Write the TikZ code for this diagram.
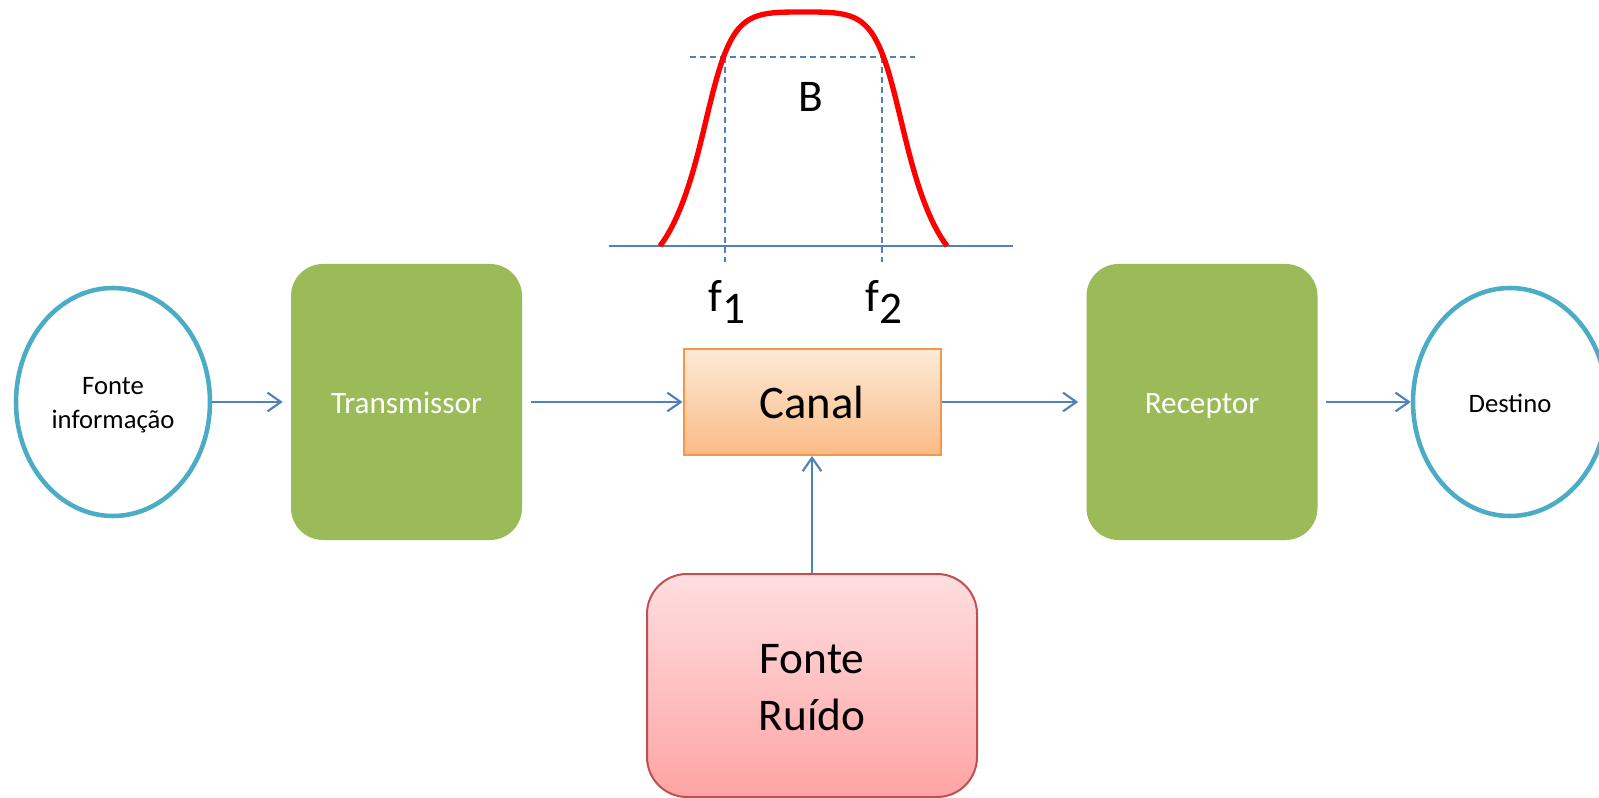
\documentclass[tikz,border=0pt]{standalone}
\usepackage{fontspec}
\setmainfont{Carlito}
\usetikzlibrary{arrows.meta,shapes.geometric}

\definecolor{flow}{HTML}{4F81BD}
\definecolor{ring}{HTML}{4BACC6}
\definecolor{leaf}{HTML}{9BBB59}
\definecolor{chanEdge}{HTML}{F79646}
\definecolor{chanTop}{RGB}{253,234,216}
\definecolor{chanBot}{RGB}{250,187,132}
\definecolor{noiseEdge}{HTML}{C0504D}
\definecolor{noiseTop}{RGB}{255,222,224}
\definecolor{noiseBot}{RGB}{255,164,164}
\definecolor{passband}{RGB}{255,0,0}

\begin{document}
\begin{tikzpicture}[x=0.75pt,y=-0.75pt,
  endpoint/.style={ellipse, draw=ring, line width=3.4pt, fill=white,
    minimum width=145.5pt, minimum height=171pt, inner sep=0pt},
  stage/.style={rectangle, rounded corners=24pt, fill=leaf,
    minimum width=173.25pt, minimum height=207pt, inner sep=0pt},
  chanbox/.style={rectangle, draw=chanEdge, line width=1.5pt,
    top color=chanTop, bottom color=chanBot,
    minimum width=192.75pt, minimum height=79.5pt, inner sep=0pt},
  noisebox/.style={rectangle, rounded corners=30pt, draw=noiseEdge, line width=1.5pt,
    top color=noiseTop, bottom color=noiseBot,
    minimum width=247.5pt, minimum height=167.25pt, inner sep=0pt},
  flowarrow/.style={draw=flow, line width=1.6pt,
    -{Straight Barb[length=10pt,width=14pt,line width=1.6pt]}},
  smalltext/.style={inner sep=0pt, anchor=base, font=\fontsize{20}{24}\selectfont},
  stagetext/.style={inner sep=0pt, anchor=base, text=white, font=\fontsize{23.4}{28}\selectfont},
  bigtext/.style={inner sep=0pt, anchor=base, font=\fontsize{34}{41}\selectfont},
  guide/.style={draw=flow, line width=1.2pt, dash pattern=on 4.5pt off 3pt},
]
\useasboundingbox (0,0) rectangle (1599,798);
\clip (0,0) rectangle (1599,798);
\fill[white] (0,0) rectangle (1599,798);

% --- pass-band sketch above the channel ---
\draw[draw=flow, line width=1.5pt] (609,246) -- (1013,246);
\coordinate (lowL) at (725,57);
\coordinate (lowR) at (882,57);
\draw[guide] (690,57) -- (915,57);
\draw[guide] (lowL) -- (725,262);
\draw[guide] (lowR) -- (882,262);
\draw[passband, line width=4pt]
  (660,246) .. controls (678,222) and (690,185) .. (700,145)
            .. controls (710,105) and (718,65) .. (730,42)
            .. controls (745,12) and (765,12) .. (803.5,12)
            .. controls (842,12) and (862,12) .. (877,42)
            .. controls (889,65) and (897,105) .. (907,145)
            .. controls (917,185) and (929,222) .. (947,246);
\node[bigtext] (bw) at (811,112) {B};
\node[bigtext] (fa) at (727,312) {f\kern0.5pt\raisebox{-8.3pt}{1}};
\node[bigtext] (fb) at (884,312) {f\kern0.5pt\raisebox{-8.3pt}{2}};

% --- blocks of the communication chain ---
\node[endpoint] (src) at (113,402) {};
\node[stage] (trans) at (406.5,402) {};
\node[chanbox] (canal) at (812,402) {};
\node[stage] (recv) at (1202,402) {};
\node[endpoint] (dest) at (1510,402) {};
\node[noisebox] (noise) at (812,685.5) {};

\node[smalltext] (srcA) at (113,395) {Fonte};
\node[smalltext] (srcB) at (113,428) {informação};
\node[stagetext] (transT) at (406.5,413) {Transmissor};
\node[inner sep=0pt, anchor=base, font=\fontsize{35}{42}\selectfont] (canalT) at (812,418) {Canal};
\node[stagetext] (recvT) at (1202,413) {Receptor};
\node[smalltext] (destT) at (1510,412) {Destino};
\node[bigtext] (noiseA) at (812,673) {Fonte};
\node[bigtext] (noiseB) at (812,730) {Ruído};

% --- signal path ---
\draw[flowarrow, shorten >=6pt] (src) -- (trans);
\draw[flowarrow, shorten <=6.5pt] (trans) -- (canal);
\draw[flowarrow, shorten >=6pt] (canal) -- (recv);
\draw[flowarrow, shorten <=6pt] (recv) -- (dest);
\draw[flowarrow] (noise.north) -- (noise.north |- canal.south);
\end{tikzpicture}
\end{document}
